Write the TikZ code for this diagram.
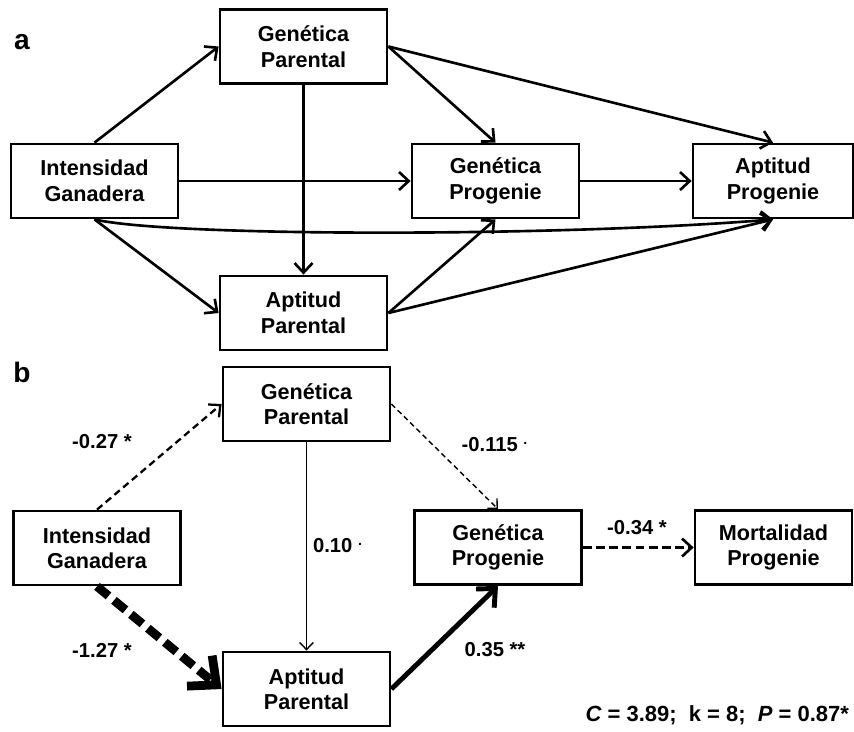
\documentclass[tikz,border=0pt]{standalone}
\usepackage{fontspec}
\setmainfont{Liberation Sans}
\usetikzlibrary{arrows.meta}

\tikzset{
  caja/.style={draw, line width=1.6pt, minimum width=3.34cm, minimum height=1.48cm, align=center, font=\fontsize{12.3}{14.5}\selectfont\bfseries},
  flecha/.style={line width=1.5pt, -{Straight Barb[length=2.5pt 2, width=5pt 3.5]}},
  coef/.style={font=\fontsize{11.5}{13}\selectfont\bfseries, inner sep=1pt},
  panel/.style={font=\fontsize{16}{18}\selectfont\bfseries}
}

\begin{document}
\begin{tikzpicture}[x=0.02cm, y=-0.02cm]
  \useasboundingbox (0,0) rectangle (854,731);

  % panel a
  \node[panel] (la) at (22,42) {a};
  \node[caja] (gpa)  at (303.5,46.5) {Genética\\Parental};
  \node[caja] (iga)  at (94.5,181) {Intensidad\\Ganadera};
  \node[caja] (apa)  at (303.5,313) {Aptitud\\Parental};
  \node[caja] (gpra) at (495.5,181) {Genética\\Progenie};
  \node[caja, minimum width=3.2cm] (apra) at (773,181) {Aptitud\\Progenie};

  \draw[flecha] (iga.north) -- (gpa.west);
  \draw[flecha] (iga.south) -- (apa.west);
  \draw[flecha] (iga.east) -- (gpra.west);
  \draw[flecha] (gpa.south) -- (apa.north);
  \draw[flecha] (gpa.east) -- (gpra.north);
  \draw[flecha] (gpa.east) -- (apra.north);
  \draw[flecha] (gpra.east) -- (apra.west);
  \draw[flecha] (apa.east) -- (gpra.south);
  \draw[flecha] (apa.east) -- (apra.south);
  \draw[flecha] (iga.south) .. controls (170,237) and (560,237) .. (apra.south);

  % panel b
  \node[panel] (lb) at (22,372) {b};
  \node[caja] (gpb)  at (306.5,404) {Genética\\Parental};
  \node[caja] (igb)  at (97,548) {Intensidad\\Ganadera};
  \node[caja] (apb)  at (306.5,689) {Aptitud\\Parental};
  \node[caja] (gprb) at (498,547.5) {Genética\\Progenie};
  \node[caja, minimum width=3.14cm] (mpb) at (773.5,547.5) {Mortalidad\\Progenie};

  \draw[flecha, line width=1.3pt, dash pattern=on 4pt off 2.5pt] (igb.north) -- (gpb.west);
  \draw[flecha, line width=0.8pt] (gpb.south) -- (apb.north);
  \draw[flecha, line width=5pt, dash pattern=on 8.5pt off 4pt] (igb.south) -- (apb.west);
  \draw[flecha, line width=0.8pt, dash pattern=on 3pt off 2pt] (gpb.east) -- (gprb.north);
  \draw[flecha, line width=2.8pt] (apb.east) -- (gprb.south);
  \draw[flecha, line width=1.5pt, dash pattern=on 5pt off 2.5pt] (gprb.east) -- (mpb.west);

  % coeficientes
  \node[coef] (c1) at (102,442) {-0.27 *};
  \node[coef] (c2) at (338,546) {0.10 \textsuperscript{.}};
  \node[coef] (c3) at (102,650) {-1.27 *};
  \node[coef] (c4) at (495,445) {-0.115 \textsuperscript{.}};
  \node[coef] (c5) at (637,528) {-0.34 *};
  \node[coef] (c6) at (495,650) {0.35 **};
  \node[coef, font=\fontsize{12.5}{14}\selectfont\bfseries, anchor=east] (fit) at (851,715)
    {\textit{C} = 3.89;~~k = 8;~~\textit{P} = 0.87*};
\end{tikzpicture}
\end{document}
